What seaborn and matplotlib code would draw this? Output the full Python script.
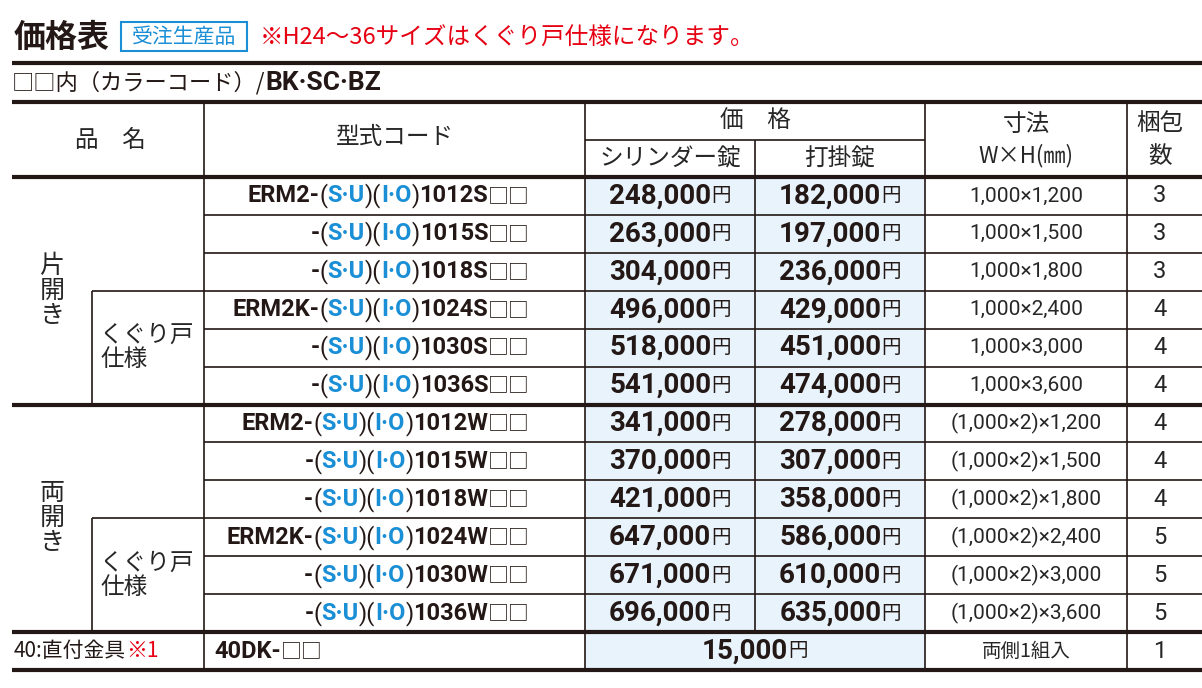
#!/usr/bin/env python3
"""Price table for ERM2 gate series, redrawn with matplotlib/seaborn."""

import matplotlib

matplotlib.use("Agg")

import matplotlib.pyplot as plt
from matplotlib.patches import Rectangle
import seaborn as sns

JP = "Noto Sans CJK JP"
NARROW = "Roboto"
BLUE = "#1a8fd6"
RED = "#e60012"
SHADE = "#e8f3fc"

MODEL_PREFIX = ["ERM2-", "-", "-", "ERM2K-", "-", "-",
                "ERM2-", "-", "-", "ERM2K-", "-", "-"]
MODEL_SIZE = ["1012S", "1015S", "1018S", "1024S", "1030S", "1036S",
              "1012W", "1015W", "1018W", "1024W", "1030W", "1036W"]
PRICE_CYLINDER = ["248,000", "263,000", "304,000", "496,000", "518,000", "541,000",
                  "341,000", "370,000", "421,000", "647,000", "671,000", "696,000"]
PRICE_PADLOCK = ["182,000", "197,000", "236,000", "429,000", "451,000", "474,000",
                 "278,000", "307,000", "358,000", "586,000", "610,000", "635,000"]
DIMENSIONS = ["1,000×1,200", "1,000×1,500", "1,000×1,800",
              "1,000×2,400", "1,000×3,000", "1,000×3,600",
              "(1,000×2)×1,200", "(1,000×2)×1,500", "(1,000×2)×1,800",
              "(1,000×2)×2,400", "(1,000×2)×3,000", "(1,000×2)×3,600"]
PACKAGES = ["3", "3", "3", "4", "4", "4", "4", "4", "4", "5", "5", "5"]

sns.set_theme(style="white")
fig = plt.figure(figsize=(12.02, 6.88), dpi=100)
ax = fig.add_axes([0, 0, 1, 1])
ax.set_xlim(0, 1202)
ax.set_ylim(688, 0)
ax.axis("off")
fig.canvas.draw()
renderer = fig.canvas.get_renderer()
DARK = "#231815"


def pieces(x, y, parts, align="left"):
    """Draw text pieces [(text, color, family, weight, size)] in a row."""
    arts = []
    for txt, color, family, weight, size in parts:
        arts.append(ax.text(0, y, txt, color=color, family=family, weight=weight,
                            fontsize=size, va="center", ha="left"))
    widths = [a.get_window_extent(renderer).width for a in arts]
    total = sum(widths)
    start = x - total if align == "right" else (x - total / 2 if align == "center" else x)
    for a, w in zip(arts, widths):
        a.set_x(start)
        start += w


def hline(y, x0, x1, lw=1.2):
    ax.plot([x0, x1], [y, y], color=DARK, lw=lw, solid_capstyle="butt")


def vline(x, y0, y1, lw=1.2):
    ax.plot([x, x], [y0, y1], color=DARK, lw=lw, solid_capstyle="butt")


# title block
ax.text(14, 38, "価格表", family=JP, weight="bold", fontsize=23, va="center", color=DARK)
ax.add_patch(Rectangle((121, 22), 126, 29, fill=False, ec=BLUE, lw=1.5))
ax.text(184, 37, "受注生産品", family=JP, fontsize=15, va="center", ha="center", color=BLUE)
ax.text(260, 38, "※H24～36サイズはくぐり戸仕様になります。", family=JP, fontsize=17,
        va="center", color=RED)
hline(63, 12, 1202, lw=3)
pieces(12, 83, [("□□内（カラーコード）/", DARK, JP, "normal", 16),
                ("BK·SC·BZ", DARK, "Roboto", "bold", 19)])
hline(102, 12, 1202, lw=3)

# header
top, head_bot = 102, 177
row_h = (632 - 177) / 12
bottom_row_top, table_bot = 632, 670
ax.add_patch(Rectangle((585, head_bot), 340, table_bot - head_bot, color=SHADE, lw=0))
for x in (204, 585, 925, 1127):
    vline(x, top, table_bot)
hline(140, 585, 925)
vline(755, 140, bottom_row_top)
hs = 17
ax.text(110, 140, "品　名", family=JP, fontsize=hs, ha="center", va="center")
ax.text(395, 138, "型式コード", family=JP, fontsize=hs, ha="center", va="center")
ax.text(755, 121, "価　格", family=JP, fontsize=hs, ha="center", va="center")
ax.text(670, 159, "シリンダー錠", family=JP, fontsize=hs, ha="center", va="center")
ax.text(840, 159, "打掛錠", family=JP, fontsize=hs, ha="center", va="center")
ax.text(1026, 124, "寸法", family=JP, fontsize=hs, ha="center", va="center")
ax.text(1026, 156, "W×H(㎜)", family=JP, fontsize=16, ha="center", va="center")
ax.text(1160, 124, "梱包", family=JP, fontsize=hs, ha="center", va="center")
ax.text(1160, 157, "数", family=JP, fontsize=hs, ha="center", va="center")
hline(head_bot, 12, 1202, lw=3)

# rows
for i in range(12):
    y0 = head_bot + i * row_h
    yc = y0 + row_h / 2
    if i not in (0, 6):
        hline(y0, 92 if i in (3, 9) else 204, 1202)
    pieces(530, yc, [(MODEL_PREFIX[i], DARK, NARROW, "bold", 17),
                     ("(", DARK, NARROW, "normal", 17), ("S·U", BLUE, NARROW, "bold", 17),
                     (")(", DARK, NARROW, "normal", 17), ("I·O", BLUE, NARROW, "bold", 17),
                     (")", DARK, NARROW, "normal", 17),
                     (MODEL_SIZE[i], DARK, NARROW, "bold", 17),
                     ("□□", DARK, JP, "normal", 15)], align="right")
    pieces(670, yc, [(PRICE_CYLINDER[i], DARK, NARROW, "bold", 20),
                     ("円", DARK, JP, "normal", 14)], align="center")
    pieces(840, yc, [(PRICE_PADLOCK[i], DARK, NARROW, "bold", 20),
                     ("円", DARK, JP, "normal", 14)], align="center")
    ax.text(1026, yc, DIMENSIONS[i], family=NARROW, fontsize=15, ha="center", va="center")
    ax.text(1160, yc, PACKAGES[i], family=NARROW, fontsize=17, ha="center", va="center")

for g in (0, 6):
    g0 = head_bot + g * row_h
    vline(92, g0 + 3 * row_h, g0 + 6 * row_h)
    ax.text(52, g0 + 3 * row_h, "片\n開\nき" if g == 0 else "両\n開\nき", family=JP,
            fontsize=18, ha="center", va="center", linespacing=0.95)
    ax.text(100, g0 + 4.5 * row_h, "くぐり戸\n仕様", family=JP, fontsize=17,
            ha="left", va="center", linespacing=1.05)
hline(head_bot + 6 * row_h, 12, 1202, lw=3)
hline(bottom_row_top, 12, 1202, lw=3)

# accessory row
yc = (bottom_row_top + table_bot) / 2
pieces(14, yc, [("40:直付金具", DARK, JP, "normal", 15), ("※1", RED, JP, "normal", 15)])
pieces(214, yc, [("40DK-", DARK, NARROW, "bold", 17), ("□□", DARK, JP, "normal", 15)])
pieces(755, yc, [("15,000", DARK, NARROW, "bold", 20), ("円", DARK, JP, "normal", 14)],
       align="center")
ax.text(1026, yc, "両側1組入", family=JP, fontsize=14, ha="center", va="center")
ax.text(1160, yc, "1", family=NARROW, fontsize=17, ha="center", va="center")
hline(table_bot, 12, 1202, lw=3)

fig.savefig("out.png", dpi=100)
